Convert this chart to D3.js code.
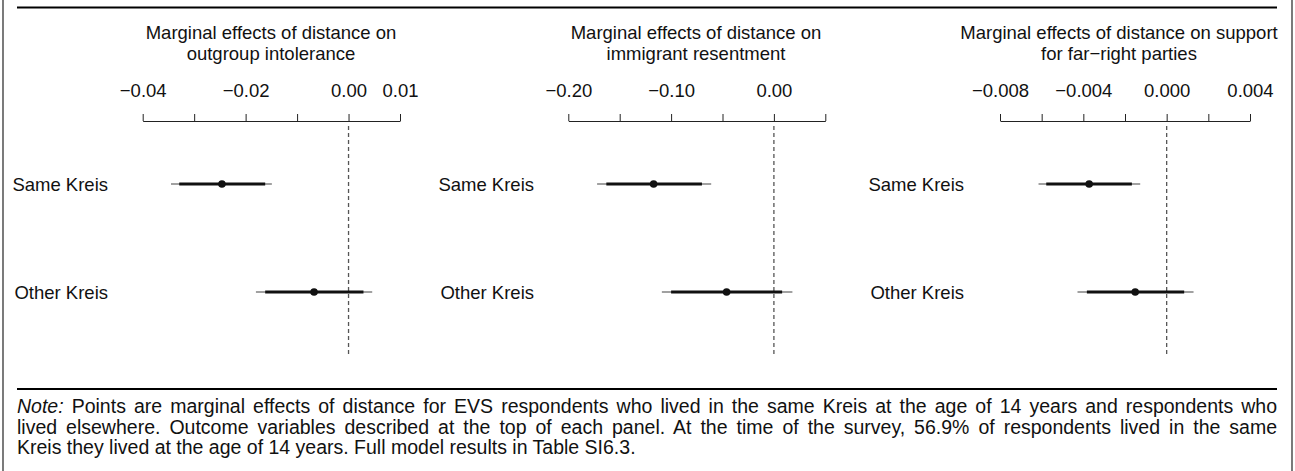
<!DOCTYPE html>
<html lang="en">
<head>
    <meta charset="UTF-8">
    <script src="https://d3js.org/d3.v7.min.js"></script>
    <style>
        body {
            margin: 0;
            background: #fff;
        }
        svg text {
            font-family: "Liberation Sans", Arial, Helvetica, sans-serif;
            fill: #111;
        }
    </style>
    <title>Marginal effects of distance</title>
</head>
<body>
<svg id="chart" width="1295" height="471"></svg>
<script>
    // rows
    var groups = ["Same Kreis", "Other Kreis"];

    // panel titles (two lines each)
    var titles = [
        ["Marginal effects of distance on", "outgroup intolerance"],
        ["Marginal effects of distance on", "immigrant resentment"],
        ["Marginal effects of distance on support", "for far\u2212right parties"]
    ];

    // axis ends, ticks and labelled ticks
    var axisDomains = [[-0.04, 0.01], [-0.20, 0.05], [-0.008, 0.004]];
    var tickValues = [
        [-0.04, -0.03, -0.02, -0.01, 0.00, 0.01],
        [-0.20, -0.15, -0.10, -0.05, 0.00, 0.05],
        [-0.008, -0.006, -0.004, -0.002, 0.000, 0.002, 0.004]
    ];
    var tickLabels = [
        ["\u22120.04", "", "\u22120.02", "", "0.00", "0.01"],
        ["\u22120.20", "", "\u22120.10", "", "0.00", ""],
        ["\u22120.008", "", "\u22120.004", "", "0.000", "", "0.004"]
    ];

    // estimates, 90% and 95% intervals (Same Kreis, Other Kreis)
    var estimates = [[-0.0246, -0.0067], [-0.117, -0.046], [-0.00372, -0.00151]];
    var lo90 = [[-0.0329, -0.0162], [-0.163, -0.100], [-0.00578, -0.00383]];
    var hi90 = [[-0.0162, 0.0029], [-0.070, 0.008], [-0.00167, 0.00084]];
    var lo95 = [[-0.0345, -0.0180], [-0.172, -0.109], [-0.00615, -0.00428]];
    var hi95 = [[-0.0149, 0.0046], [-0.061, 0.018], [-0.00127, 0.00129]];

    var noteLines = [
        "Points are marginal effects of distance for EVS respondents who lived in the same Kreis at the age of 14 years and respondents who",
        "lived elsewhere. Outcome variables described at the top of each panel. At the time of the survey, 56.9% of respondents lived in the same",
        "Kreis they lived at the age of 14 years. Full model results in Table SI6.3."
    ];

    var svg = d3.select("#chart");
    var fontSize = 18.5;
    var noteSize = 19.5;

    // frame
    svg.append("line").attr("x1", 3).attr("x2", 3).attr("y1", 0).attr("y2", 471)
        .attr("stroke", "#222").attr("stroke-width", 1.2);
    svg.append("line").attr("x1", 1292).attr("x2", 1292).attr("y1", 0).attr("y2", 471)
        .attr("stroke", "#222").attr("stroke-width", 1.2);
    svg.append("line").attr("x1", 17).attr("x2", 1277).attr("y1", 7.5).attr("y2", 7.5)
        .attr("stroke", "#000").attr("stroke-width", 2.2);
    svg.append("line").attr("x1", 17).attr("x2", 1277).attr("y1", 389).attr("y2", 389)
        .attr("stroke", "#000").attr("stroke-width", 2.2);

    // panel pixel layout
    var axisRanges = [[142.7, 400], [568.3, 825.3], [1000, 1250]];
    var labelRight = [108, 534, 964];
    var titleCenter = [271, 696, 1119];
    var axisY = 121;
    var rowY = d3.scalePoint().domain(groups).range([184, 292]);

    titles.forEach(function (t, p) {
        var g = svg.append("g");
        var x = d3.scaleLinear().domain(axisDomains[p]).range(axisRanges[p]);

        // title
        g.selectAll(".title")
            .data(t)
            .enter()
            .append("text")
            .attr("x", titleCenter[p])
            .attr("y", function (d, i) { return 39 + i * 21; })
            .attr("text-anchor", "middle")
            .style("font-size", fontSize + "px")
            .text(function (d) { return d; });

        // axis
        var axis = d3.axisTop(x)
            .tickValues(tickValues[p])
            .tickSize(7)
            .tickSizeOuter(0)
            .tickPadding(17)
            .tickFormat(function (d, i) { return tickLabels[p][i]; });
        var ax = g.append("g")
            .attr("transform", "translate(0," + axisY + ")")
            .call(axis);
        ax.selectAll("path, line").attr("stroke", "#222").attr("stroke-width", 1);
        ax.selectAll("text")
            .style("font-size", fontSize + "px")
            .style("font-family", "'Liberation Sans', Arial, sans-serif")
            .attr("fill", "#111");

        // zero line
        g.append("line")
            .attr("x1", x(0)).attr("x2", x(0))
            .attr("y1", 126).attr("y2", 354)
            .attr("stroke", "#555")
            .attr("stroke-width", 1.3)
            .attr("stroke-dasharray", "4,3");

        // row labels
        g.selectAll(".row")
            .data(groups)
            .enter()
            .append("text")
            .attr("x", labelRight[p])
            .attr("y", function (d) { return rowY(d) + 6.5; })
            .attr("text-anchor", "end")
            .style("font-size", fontSize + "px")
            .text(function (d) { return d; });

        // 95% intervals
        g.selectAll(".ci95")
            .data(groups)
            .enter()
            .append("line")
            .attr("x1", function (d, i) { return x(lo95[p][i]); })
            .attr("x2", function (d, i) { return x(hi95[p][i]); })
            .attr("y1", function (d) { return rowY(d); })
            .attr("y2", function (d) { return rowY(d); })
            .attr("stroke", "#444")
            .attr("stroke-width", 1.2);

        // 90% intervals
        g.selectAll(".ci90")
            .data(groups)
            .enter()
            .append("line")
            .attr("x1", function (d, i) { return x(lo90[p][i]); })
            .attr("x2", function (d, i) { return x(hi90[p][i]); })
            .attr("y1", function (d) { return rowY(d); })
            .attr("y2", function (d) { return rowY(d); })
            .attr("stroke", "#111")
            .attr("stroke-width", 3);

        // point estimates
        g.selectAll(".pt")
            .data(groups)
            .enter()
            .append("circle")
            .attr("cx", function (d, i) { return x(estimates[p][i]); })
            .attr("cy", function (d) { return rowY(d); })
            .attr("r", 3.8)
            .attr("fill", "#111");
    });

    // note, first two lines justified
    var noteLeft = 17, noteRight = 1277;
    noteLines.forEach(function (line, i) {
        var t = svg.append("text")
            .attr("x", noteLeft)
            .attr("y", 413 + i * 20.5)
            .style("font-size", noteSize + "px");
        if (i == 0) {
            t.append("tspan").style("font-style", "italic").text("Note:");
            t.append("tspan").text(" " + line);
        } else {
            t.text(line);
        }
        if (i < 2) {
            var w = t.node().getComputedTextLength();
            var spaces = (i == 0 ? ("Note: " + line) : line).split(" ").length - 1;
            t.style("word-spacing", ((noteRight - noteLeft - w) / spaces) + "px");
        }
    });
</script>
</body>
</html>
